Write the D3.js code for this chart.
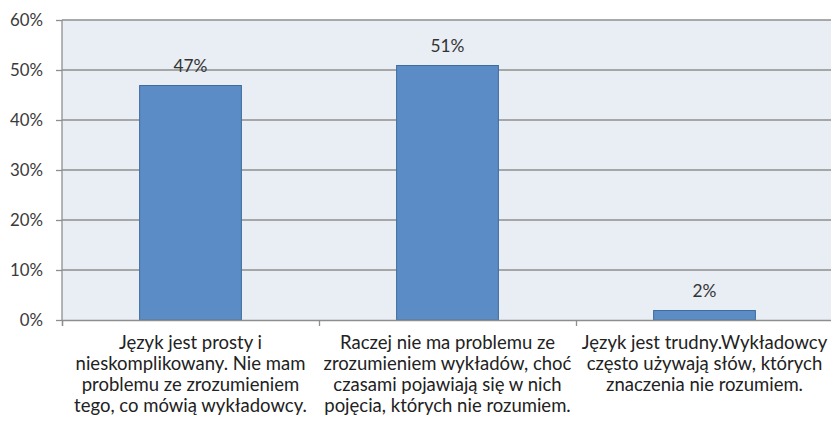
<!DOCTYPE html>
<html><head><meta charset="utf-8">
<script src="https://cdn.jsdelivr.net/npm/d3@7"></script>
<style>body{margin:0;background:#fff}svg{display:block}</style>
</head><body>
<svg id="c" width="831" height="422"></svg>
<script>
const categories = [
  ["Język jest prosty i","nieskomplikowany. Nie mam","problemu ze zrozumieniem","tego, co mówią wykładowcy."],
  ["Raczej nie ma problemu ze","zrozumieniem wykładów, choć","czasami pojawiają się w nich","pojęcia, których nie rozumiem."],
  ["Język jest trudny.Wykładowcy","często używają słów, których","znaczenia nie rozumiem."]
];
const values = [47, 51, 2];
const valueLabels = ["47%","51%","2%"];
const yTicks = [0,10,20,30,40,50,60];

const W = 831, H = 422;
const m = {l:62, r:-2, t:20, b:102};
const svg = d3.select("#c");
const font = "Lato, 'Open Sans', sans-serif";

// fit a font size so a sample string spans a given width
function fitSize(sample, target){
  const t = svg.append("text").attr("font-family", font).attr("font-size", 20).text(sample);
  const w = t.node().getComputedTextLength();
  t.remove();
  return 20 * target / w;
}
const catSize = fitSize("nieskomplikowany. Nie mam", 230);
const tickSize = fitSize("60%", 33);
const valSize = fitSize("47%", 34);

const x = d3.scaleBand().domain(d3.range(categories.length)).range([m.l, W - m.r]).paddingInner(0.6).paddingOuter(0.3);
const xb = d3.scaleLinear().domain([0, categories.length]).range([m.l, W - m.r]);
const y = d3.scaleLinear().domain([0,60]).range([H - m.b, m.t]);

svg.append("rect").attr("x", m.l).attr("y", y(60)).attr("width", W - m.r - m.l).attr("height", y(0)-y(60)).attr("fill", "#E9EDF4");

svg.append("g").selectAll("line").data(yTicks.filter(d=>d>0)).join("line")
  .attr("x1", m.l).attr("x2", W).attr("y1", d=>y(d)).attr("y2", d=>y(d))
  .attr("stroke", "#8E8E8E").attr("stroke-width", 1.3);

svg.append("g").selectAll("rect").data(values).join("rect")
  .attr("x", (d,i)=>x(i)+0.5).attr("width", x.bandwidth()-1)
  .attr("y", d=>y(d)+0.5).attr("height", d=>y(0)-y(d)-0.5)
  .attr("fill", "#5B8CC5").attr("stroke", "#3F6C9E").attr("stroke-width", 1);

svg.append("g").selectAll("text").data(values).join("text")
  .attr("x", (d,i)=>x(i)+x.bandwidth()/2).attr("y", d=>y(d)-13)
  .attr("text-anchor","middle").attr("font-family", font).attr("font-size", valSize).attr("fill","#333")
  .text((d,i)=>valueLabels[i]);

// y axis
const ya = svg.append("g").attr("transform", `translate(${m.l},0)`)
  .call(d3.axisLeft(y).tickValues(yTicks).tickFormat(d=>d+"%").tickSize(6).tickPadding(13));
ya.select(".domain").remove();
ya.selectAll("line").attr("stroke","#8E8E8E").attr("stroke-width",1.3);
ya.selectAll("text").attr("font-family", font).attr("font-size", tickSize).attr("fill","#3a3a3a");
svg.append("line").attr("x1", m.l).attr("x2", m.l).attr("y1", y(60)).attr("y2", y(0)).attr("stroke","#8E8E8E").attr("stroke-width",1.3);

// x axis
const xa = svg.append("g").attr("transform", `translate(0,${y(0)})`)
  .call(d3.axisBottom(xb).tickValues(d3.range(categories.length+1)).tickFormat("").tickSize(6));
xa.select(".domain").attr("stroke","#8E8E8E").attr("stroke-width",1.3);
xa.selectAll("line").attr("stroke","#8E8E8E").attr("stroke-width",1.3);

const lab = svg.append("g").selectAll("text").data(categories).join("text")
  .attr("x", (d,i)=>xb(i+0.5)).attr("y", y(0)+29)
  .attr("text-anchor","middle").attr("font-family", font).attr("font-size", catSize).attr("fill","#222");
lab.each(function(lines){
  d3.select(this).selectAll("tspan").data(lines).join("tspan")
    .attr("x", d3.select(this).attr("x")).attr("dy", (d,j)=>j===0?0:21).text(d=>d);
});
</script>
</body></html>
